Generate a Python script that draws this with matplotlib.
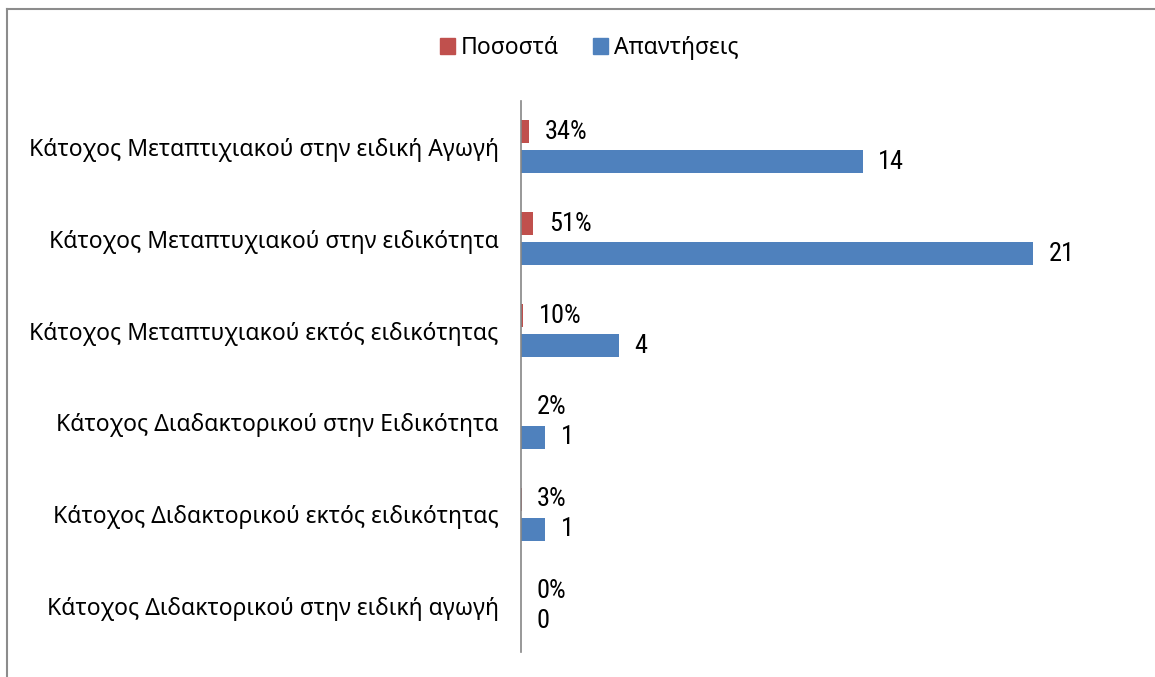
import numpy as np
import matplotlib
matplotlib.use("Agg")
from matplotlib import pyplot as plt
from matplotlib.lines import Line2D
from matplotlib.patches import Patch
from matplotlib import font_manager

categories = [
    "Κάτοχος Μεταπτιχιακού στην ειδική Αγωγή",
    "Κάτοχος Μεταπτυχιακού στην ειδικότητα",
    "Κάτοχος Μεταπτυχιακού εκτός ειδικότητας",
    "Κάτοχος Διαδακτορικού στην Ειδικότητα",
    "Κάτοχος Διδακτορικού εκτός ειδικότητας",
    "Κάτοχος Διδακτορικού στην ειδική αγωγή",
]
percentages = [0.34, 0.51, 0.10, 0.02, 0.03, 0.0]
answers = [14, 21, 4, 1, 1, 0]
series_names = ["Ποσοστά", "Απαντήσεις"]

red = "#C0504D"
blue = "#4F81BD"
label_font = ["Noto Sans", "DejaVu Sans"]

# condensed face for the data labels, if one is available
names = {f.name for f in font_manager.fontManager.ttflist}
narrow = [n for n in ["Liberation Sans Narrow", "Roboto Condensed", "Open Sans Condensed",
                      "Noto Sans Condensed"] if n in names]
value_font = narrow[:1] + ["Noto Sans", "DejaVu Sans"]

W, H = 1155, 677
fig = plt.figure(figsize=(W / 100, H / 100), dpi=100)
ax = fig.add_axes([521 / W, 1 - 652 / H, (1131 - 521) / W, (652 - 101) / H])

y = np.arange(len(categories))
off = 0.163
h = 0.25
bars_p = ax.barh(y - off, percentages, height=h, color=red)
bars_a = ax.barh(y + off, answers, height=h, color=blue)

for bar, v in zip(bars_p, percentages):
    ax.annotate(f"{v:.0%}", (bar.get_width(), bar.get_y() + bar.get_height() / 2),
                xytext=(11, 0), textcoords="offset points", va="center", ha="left",
                fontsize=19, family=value_font)
for bar, v in zip(bars_a, answers):
    ax.annotate(f"{v}", (bar.get_width(), bar.get_y() + bar.get_height() / 2),
                xytext=(11, 0), textcoords="offset points", va="center", ha="left",
                fontsize=19, family=value_font)

ax.set_xlim(0, 25)
ax.set_ylim(len(categories) - 0.5, -0.5)
ax.set_yticks(y)
ax.set_yticklabels(categories, fontsize=16.5, family=label_font)
ax.tick_params(axis="y", length=0, pad=16)
ax.set_xticks([])
for s in ["top", "right", "bottom"]:
    ax.spines[s].set_visible(False)
ax.spines["left"].set_color("#868686")
ax.spines["left"].set_linewidth(1.2)

handles = [Patch(color=red), Patch(color=blue)]
fig.legend(handles, series_names, loc="center", bbox_to_anchor=(589 / W, 1 - 48 / H),
           ncol=2, frameon=False, handlelength=0.65, handleheight=0.65,
           handletextpad=0.25, columnspacing=1.5, prop={"family": label_font, "size": 16.5})

# outer border (left and top edges visible)
fig.add_artist(Line2D([7 / W, 7 / W], [0, 1 - 8.5 / H], transform=fig.transFigure,
                      color="#8C8C8C", lw=1.5))
fig.add_artist(Line2D([7 / W, 1], [1 - 8.5 / H, 1 - 8.5 / H], transform=fig.transFigure,
                      color="#8C8C8C", lw=1.5))

fig.savefig("out.png", dpi=100)
